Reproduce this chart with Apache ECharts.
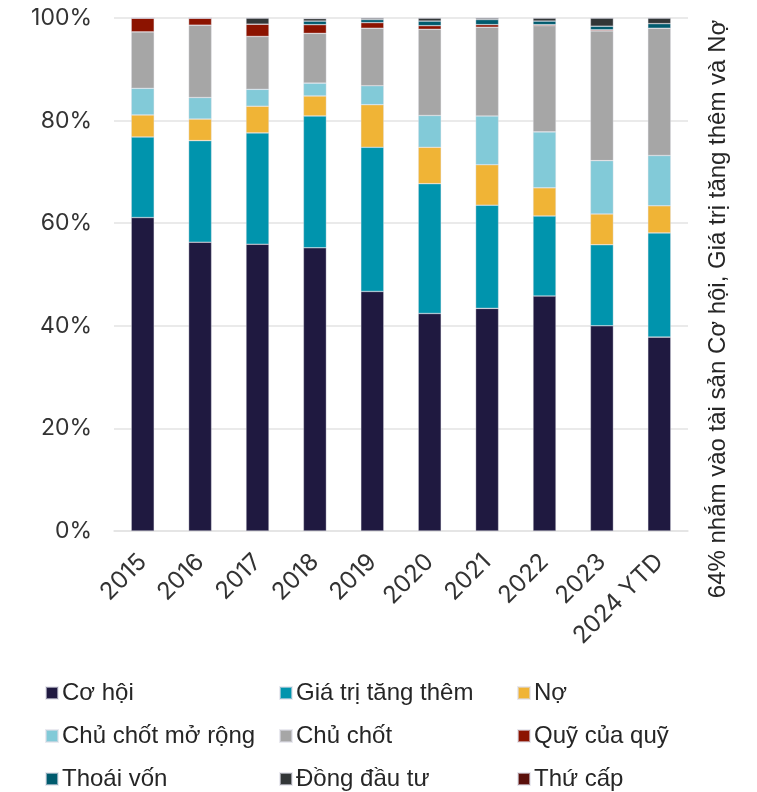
<!DOCTYPE html>
<html>
<head>
<meta charset="utf-8">
<script src="https://cdn.jsdelivr.net/npm/echarts@6/dist/echarts.min.js"></script>
<style>
  html, body { margin: 0; padding: 0; background: #ffffff; }
  #chart { width: 757px; height: 792px; }
</style>
</head>
<body>
<div id="chart"></div>
<script>
// Category labels (years)
const years = ['2015', '2016', '2017', '2018', '2019', '2020', '2021', '2022', '2023', '2024 YTD'];

// Share of capital by strategy, in percent of each year's total
const coHoi        = [61.1, 56.3, 55.9, 55.2, 46.7, 42.4, 43.4, 45.8, 40.0, 37.8];
const giaTriTang   = [15.7, 19.8, 21.7, 25.7, 28.1, 25.3, 20.1, 15.6, 15.8, 20.3];
const no           = [4.3, 4.2, 5.2, 3.9, 8.3, 7.1, 7.9, 5.5, 6.0, 5.3];
const chuChotMoRong = [5.2, 4.2, 3.3, 2.5, 3.7, 6.2, 9.5, 10.9, 10.4, 9.8];
const chuChot      = [11.0, 14.1, 10.3, 9.7, 11.2, 16.8, 17.3, 20.7, 25.3, 24.8];
const quyCuaQuy    = [2.7, 1.4, 2.4, 1.7, 1.1, 0.7, 0.5, 0.2, 0.2, 0];
const thoaiVon     = [0, 0, 0, 0.7, 0.6, 0.9, 1.0, 0.7, 0.7, 0.9];
const dongDauTu    = [0, 0, 1.2, 0.5, 0.3, 0.6, 0.3, 0.6, 1.6, 1.1];
const thuCap       = [0, 0, 0, 0, 0, 0, 0, 0, 0, 0];

// Y-axis tick values
const yTicks = [0, 20, 40, 60, 80, 100];

const sideNote = '64% nhắm vào tài sản Cơ hội, Giá trị tăng thêm và Nợ';

const seriesDefs = [
  { name: 'Cơ hội', data: coHoi, color: '#1F1940' },
  { name: 'Giá trị tăng thêm', data: giaTriTang, color: '#0094AD' },
  { name: 'Nợ', data: no, color: '#F0B436' },
  { name: 'Chủ chốt mở rộng', data: chuChotMoRong, color: '#82CAD8' },
  { name: 'Chủ chốt', data: chuChot, color: '#A6A6A6' },
  { name: 'Quỹ của quỹ', data: quyCuaQuy, color: '#8C1300' },
  { name: 'Thoái vốn', data: thoaiVon, color: '#005B6E' },
  { name: 'Đồng đầu tư', data: dongDauTu, color: '#323637' },
  { name: 'Thứ cấp', data: thuCap, color: '#5A0F0A' }
];

const chart = echarts.init(document.getElementById('chart'), null, { renderer: 'canvas' });

// Legend laid out as a 3x3 grid, read row by row
const legendCols = [45, 279, 517];
const legendRows = [681, 724, 767];

const legends = seriesDefs.map((s, i) => ({
  left: legendCols[i % 3],
  top: legendRows[Math.floor(i / 3)],
  icon: 'rect',
  itemWidth: 12,
  itemHeight: 12,
  itemGap: 0,
  padding: 0,
  selectedMode: false,
  textStyle: {
    fontFamily: 'Liberation Sans, Arial, sans-serif',
    fontSize: 24,
    color: '#262626',
    padding: [0, 0, 0, -1]
  },
  data: [s.name]
}));

const option = {
  animation: false,
  backgroundColor: '#ffffff',
  grid: { left: 114, right: 69, top: 18, bottom: 261, containLabel: false },
  legend: legends,
  xAxis: {
    type: 'category',
    data: years,
    axisTick: { show: false },
    axisLine: { show: true, lineStyle: { color: '#e3e3e3', width: 1.5 } },
    axisLabel: {
      rotate: 45,
      margin: 27,
      fontFamily: 'Inter, Lato, sans-serif',
      fontSize: 24,
      color: '#333333'
    }
  },
  yAxis: {
    type: 'value',
    min: yTicks[0],
    max: yTicks[yTicks.length - 1],
    interval: yTicks[1] - yTicks[0],
    axisLine: { show: false },
    axisTick: { show: false },
    splitLine: { lineStyle: { color: '#e3e3e3', width: 1.5 } },
    axisLabel: {
      formatter: '{value}%',
      margin: 22,
      fontFamily: 'Inter, Lato, sans-serif',
      fontSize: 23,
      color: '#333333'
    }
  },
  graphic: [{
    type: 'text',
    x: 718,
    y: 309,
    rotation: Math.PI / 2,
    style: {
      text: sideNote,
      fontFamily: 'Liberation Sans, Arial, sans-serif',
      fontSize: 24,
      fill: '#262626',
      textAlign: 'center',
      textVerticalAlign: 'middle'
    }
  }],
  series: seriesDefs.map(s => ({
    name: s.name,
    type: 'bar',
    stack: 'total',
    barWidth: 23,
    data: s.data,
    itemStyle: {
      color: s.color,
      borderColor: 'rgba(220,220,230,0.6)',
      borderWidth: 0.6
    },
    emphasis: { disabled: true }
  }))
};

chart.setOption(option);
</script>
</body>
</html>
